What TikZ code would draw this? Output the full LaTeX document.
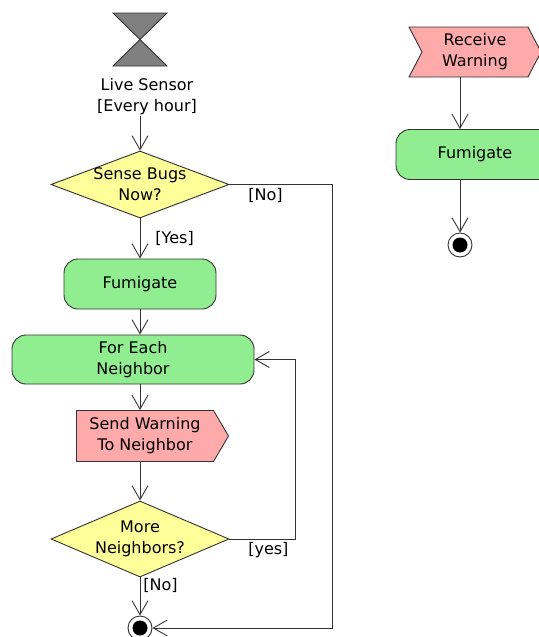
\documentclass[tikz,border=0pt]{standalone}
\usepackage{fontspec}
\setmainfont{DejaVu Sans}
\usetikzlibrary{positioning, shapes.geometric, shapes.symbols, arrows.meta}

\definecolor{actgreen}{HTML}{90EE90}
\definecolor{decyellow}{HTML}{FFFF99}
\definecolor{sigpink}{HTML}{FFAAAA}
\definecolor{linegray}{HTML}{333333}

\begin{document}
\begin{tikzpicture}[
  x=1pt, y=-1pt,
  font=\fontsize{16}{21}\selectfont,
  every node/.style={draw=linegray, line width=0.9pt},
  action/.style={rectangle, rounded corners=14pt, draw, fill=actgreen, minimum height=50pt, align=center},
  decision/.style={diamond, draw, fill=decyellow, inner sep=0pt},
  sendsig/.style={signal, signal to=east, signal pointer angle=119, draw, fill=sigpink, minimum height=51pt, align=center},
  recvsig/.style={signal, signal from=west, signal pointer angle=125, draw, fill=sigpink, minimum height=50pt, align=center},
  final/.style={circle, draw, fill=white, minimum size=24pt, inner sep=0pt,
    path picture={\fill[black] (path picture bounding box.center) circle (7.5pt);}},
  guard/.style={draw=none, inner sep=3pt},
  flow/.style={-{Straight Barb[length=14pt, width=16pt]}, draw=linegray, line width=0.9pt},
]
\useasboundingbox (0,0) rectangle (538,637);

% timer
\filldraw[fill=gray, draw=linegray, line width=0.9pt] (113,13) -- (167,13) -- (113,66) -- (167,66) -- cycle;
\node[draw=none, align=center, inner sep=0pt] (sensor) at (147,97) {Live Sensor\\[0pt][Every hour]};

\node[decision, minimum width=178pt, minimum height=67pt, label={[draw=none, align=center]center:{Sense Bugs\\Now?}}] (sense) at (140,184.5) {};
\node[action, minimum width=152pt] (fumA) at (140,284) {Fumigate};
\node[action, minimum width=242pt, minimum height=49pt] (each) at (133,359.5) {For Each\\Neighbor};
\node[sendsig, minimum width=152pt] (send) at (145,436) {Send Warning\\To Neighbor};
\node[decision, minimum width=178pt, minimum height=76pt, label={[draw=none, align=center]center:{More\\Neighbors?}}] (more) at (140,539) {};
\node[final] (endA) at (140,628) {};

% warning received
\node[recvsig, minimum width=132pt] (recv) at (475,52) {Receive\\Warning};
\node[action, minimum width=158pt] (fumB) at (475,154.5) {Fumigate};
\node[final] (endB) at (460,245) {};

\draw[flow] (sensor.south -| sense.north) -- (sense.north);
\draw[flow] (sense.south) -- node[guard, right, xshift=12pt]{[Yes]} (fumA.north);
\draw[flow] (sense.east) -- node[guard, below, pos=0.35]{[No]} ++(103,0) |- (endA.east);
\draw[flow] (fumA.south) -- (each.north -| fumA.south);
\draw[flow] (each.south -| sense.south) -- (send.north -| sense.south);
\draw[flow] (send.south -| sense.south) -- (more.north);
\draw[flow] (more.south) -- node[guard, right, pos=0.2]{[No]} (endA.north);
\draw[flow] (more.east) -- node[guard, below, pos=0.59]{[yes]} ++(66,0) |- (each.east);

\draw[flow] (recv.south -| endB.north) -- (fumB.north -| endB.north);
\draw[flow] (fumB.south -| endB.north) -- (endB.north);
\end{tikzpicture}
\end{document}
